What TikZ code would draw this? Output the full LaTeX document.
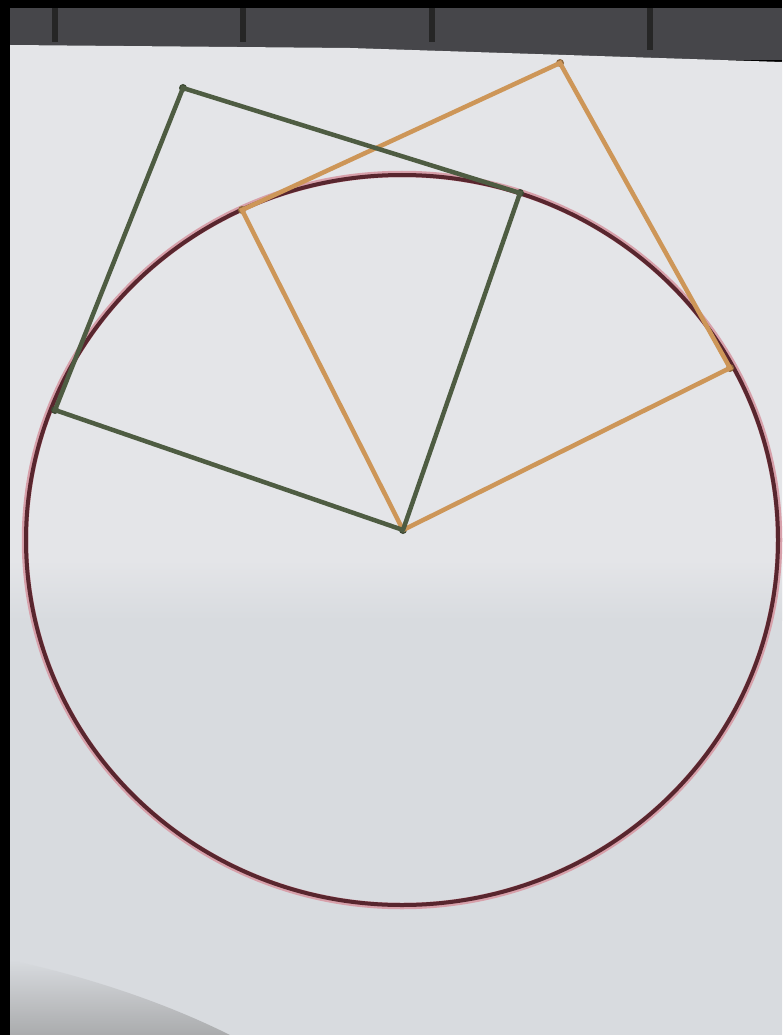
\documentclass[tikz,border=0pt]{standalone}
\usetikzlibrary{calc}
\definecolor{paper}{RGB}{228,229,232}
\definecolor{paperlow}{RGB}{216,219,223}
\definecolor{strip}{RGB}{70,70,74}
\definecolor{greenrod}{RGB}{78,92,66}
\definecolor{orangerod}{RGB}{205,150,88}
\definecolor{hoop}{RGB}{88,38,46}
\definecolor{hoophalo}{RGB}{215,160,170}
\tikzset{
  rodg/.style={draw=greenrod, line width=4.5pt, line cap=round},
  rodo/.style={draw=orangerod, line width=4.5pt, line cap=round},
  joint/.style={circle, fill=greenrod!80!black, inner sep=0pt, minimum size=8pt},
}
\begin{document}
\begin{tikzpicture}[x=1pt,y=-1pt]
\useasboundingbox (0,0) rectangle (782,1035);
% background
\fill[black] (0,0) rectangle (782,1035);
\fill[strip] (10,8) rectangle (782,60);
\foreach \px in {55,243,432} \fill[black!85] (\px-3,8) rectangle (\px+3,42);
\fill[black!85] (647,8) rectangle (653,50);
% paper
\fill[paper] (10,45) -- (350,48) -- (782,62) -- (782,1035) -- (10,1035) -- cycle;
\shade[top color=paper, bottom color=paperlow] (10,560) rectangle (782,620);
\fill[paperlow] (10,620) rectangle (782,1035);
\shade[top color=paperlow, bottom color=black!45, opacity=0.6] (10,960) .. controls (80,975) and (160,1000) .. (230,1035) -- (10,1035) -- cycle;
% circle hoop
\draw[hoophalo, line width=6.5pt] (402,540) ellipse (377 and 366);
\draw[hoop, line width=4pt] (402,540) ellipse (376 and 365);
% nodes
\node[joint] (A) at (403,530) {};
\node[joint] (B) at (55,410) {};
\node[joint] (C) at (183,88) {};
\node[joint] (D) at (520,193) {};
\node[joint, fill=orangerod!70!black] (E) at (242,210) {};
\node[joint, fill=orangerod!70!black] (F) at (560,63) {};
\node[joint, fill=orangerod!70!black] (G) at (730,368) {};
% orange square
\draw[rodo] (A.center) -- (E.center) -- (F.center) -- (G.center) -- (A.center);
% green square
\draw[rodg] (A.center) -- (B.center) -- (C.center) -- (D.center) -- (A.center);
\end{tikzpicture}
\end{document}
